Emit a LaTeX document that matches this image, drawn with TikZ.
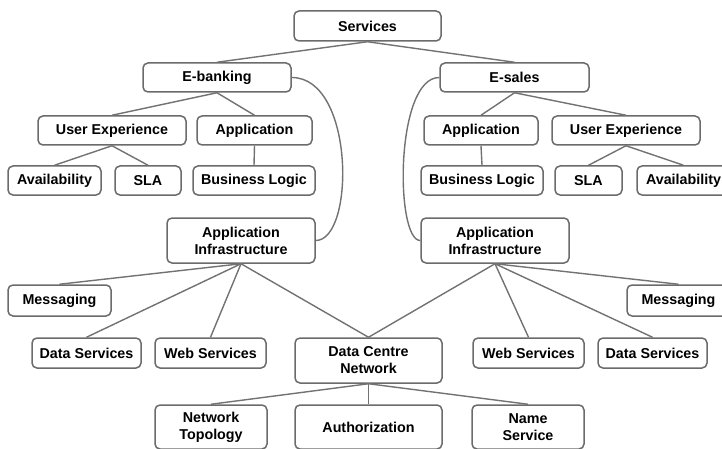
\documentclass[tikz,border=0pt]{standalone}
\usepackage{fontspec}
\setmainfont{Liberation Sans}
\usetikzlibrary{positioning}

\definecolor{boxgray}{HTML}{6B6B6B}
\definecolor{linegray}{HTML}{727272}

\begin{document}
\begin{tikzpicture}[x=1pt,y=-1pt,
    box/.style={draw=boxgray,line width=1.5pt,rounded corners=5pt,fill=white,
        minimum height=29pt,inner sep=2pt,align=center,
        font=\fontsize{14.3}{17}\selectfont\bfseries},
    tall/.style={box,minimum height=45pt},
    link/.style={draw=linegray,line width=1.4pt}]
        \useasboundingbox (0,0) rectangle (722,449);
        % top levels
        \node[box,minimum width=147pt,minimum height=30pt] (srv) at (367.5,26) {Services};
        \node[box,minimum width=148pt] (e_bank) at (217,77.5) {E-banking};
        \node[box,minimum width=149pt] (e_sale) at (514.5,77.5) {E-sales};
        % e-banking side
        \node[box,minimum width=148pt] (ux_l) at (112,130.5) {User Experience};
        \node[box,minimum width=115pt] (app_l) at (254.5,130.5) {Application};
        \node[box,minimum width=93pt] (avail_l) at (54.5,180.5) {Availability};
        \node[box,minimum width=66pt] (sla_l) at (148,180.5) {SLA};
        \node[box,minimum width=122pt] (logic_l) at (254,180.5) {Business Logic};
        \node[tall,minimum width=148pt] (infra_l) at (241,240.5) {Application\\Infrastructure};
        % e-sales side
        \node[box,minimum width=114pt] (app_r) at (481,130.5) {Application};
        \node[box,minimum width=148pt] (ux_r) at (626,130.5) {User Experience};
        \node[box,minimum width=122pt] (logic_r) at (482,180.5) {Business Logic};
        \node[box,minimum width=67pt] (sla_r) at (588.5,180.5) {SLA};
        \node[box,minimum width=93pt] (avail_r) at (683.5,180.5) {Availability};
        \node[tall,minimum width=148pt] (infra_r) at (495,240.5) {Application\\Infrastructure};
        % infrastructure
        \node[box,minimum width=103pt,minimum height=31pt] (msg_l) at (59.5,300.5) {Messaging};
        \node[box,minimum width=109pt,minimum height=30pt] (data_l) at (86.5,353) {Data Services};
        \node[box,minimum width=111pt,minimum height=30pt] (web_l) at (210.5,353) {Web Services};
        \node[tall,minimum width=147pt] (dcn) at (368.5,360.5) {Data Centre\\Network};
        \node[box,minimum width=111pt,minimum height=30pt] (web_r) at (528.5,353) {Web Services};
        \node[box,minimum width=109pt,minimum height=30pt] (data_r) at (652.5,353) {Data Services};
        \node[box,minimum width=103pt,minimum height=31pt] (msg_r) at (678.5,300.5) {Messaging};
        % network
        \node[tall,minimum width=112pt,minimum height=44pt] (topo) at (211,427) {Network\\Topology};
        \node[tall,minimum width=147pt,minimum height=44pt] (auth) at (368.5,427) {Authorization};
        \node[tall,minimum width=112pt,minimum height=44pt] (name) at (528,427) {Name\\Service};
        \path[link]
        (srv.south) edge (e_bank.north)
        (srv.south) edge (e_sale.north)
        (e_bank.south) edge (ux_l.north)
        (e_bank.south) edge (app_l.north)
        (ux_l.south) edge (avail_l.north)
        (ux_l.south) edge (sla_l.north)
        (app_l.south) edge (logic_l.north)
        (e_sale.south) edge (app_r.north)
        (e_sale.south) edge (ux_r.north)
        (app_r.south) edge (logic_r.north)
        (ux_r.south) edge (sla_r.north)
        (ux_r.south) edge (avail_r.north)
        (infra_l.south) edge (msg_l.north)
        (infra_l.south) edge (data_l.north)
        (infra_l.south) edge (web_l.north)
        (infra_l.south) edge (dcn.north)
        (infra_r.south) edge (dcn.north)
        (infra_r.south) edge (web_r.north)
        (infra_r.south) edge (data_r.north)
        (infra_r.south) edge (msg_r.north)
        (dcn.south) edge (topo.north)
        (dcn.south) edge (auth.north)
        (dcn.south) edge (name.north);
        % links between the two trees
        \draw[link] (e_bank.east) .. controls (355,77.5) and (355,240.5) .. (infra_l.east);
        \draw[link] (e_sale.west) .. controls (395,77.5) and (395,240.5) .. (infra_r.west);
    \end{tikzpicture}
\end{document}
